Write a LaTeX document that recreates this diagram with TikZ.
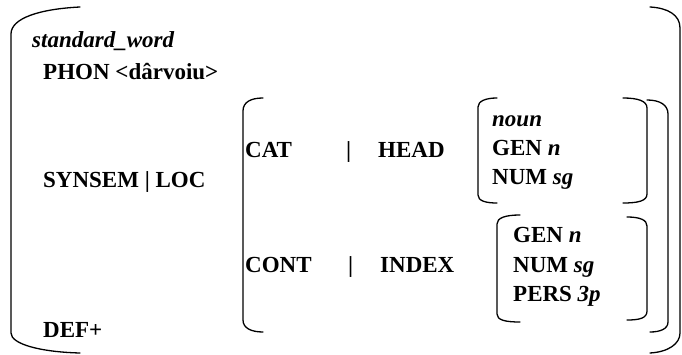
\documentclass[tikz,border=0pt]{standalone}
\usepackage{fontspec}
\setmainfont{Liberation Serif}
\usepackage{tikz}
\usetikzlibrary{positioning}
\tikzset{
  avm/.style={anchor=base west,inner sep=0pt,font=\fontsize{23}{28}\selectfont\bfseries},
  brak/.style={line width=1.3pt,line cap=round}
}

\begin{document}
\begin{tikzpicture}[x=1pt,y=-1pt]
  \useasboundingbox (0,0) rectangle (682,355);
  % outer matrix brackets
  \draw[brak] (80,7) .. controls (40,9) and (11,18) .. (11,34) -- (11,333)
              .. controls (11,344) and (40,352) .. (80,353);
  \draw[brak] (650,7) .. controls (668,8) and (680,15) .. (680,28) -- (680,333)
              .. controls (680,344) and (668,352) .. (650,353);
  % SYNSEM|LOC value
  \draw[brak] (263,98) .. controls (251,98) and (243,102) .. (243,111) -- (243,320)
              .. controls (243,328) and (251,332) .. (263,332);
  \draw[brak] (647,100) .. controls (660,100) and (668,105) .. (668,114) -- (668,322)
              .. controls (668,329) and (660,332) .. (650,332);
  % HEAD value
  \draw[brak] (497,98) .. controls (486,98) and (478,101) .. (478,107) -- (478,195)
              .. controls (478,201) and (486,203) .. (497,203);
  \draw[brak] (623,98) .. controls (638,98) and (647,101) .. (647,108) -- (647,194)
              .. controls (647,201) and (638,203) .. (623,203);
  % INDEX value
  \draw[brak] (520,215) .. controls (505,215) and (497,218) .. (497,224) -- (497,314)
              .. controls (497,320) and (505,322) .. (520,322);
  \draw[brak] (627,217) .. controls (640,217) and (647,220) .. (647,226) -- (647,311)
              .. controls (647,318) and (640,320) .. (627,320);
  % features
  \node[avm] (type) at (32,48) {\textit{standard\_word}};
  \node[avm] (phon) at (43,80) {PHON <dârvoiu>};
  \node[avm] (synsem) at (43,188) {SYNSEM | LOC};
  \node[avm] (cat) at (245,158) {CAT};
  \node[avm] (bar1) at (346,158) {|};
  \node[avm] (head) at (378,158) {HEAD};
  \node[avm] (noun) at (492,127) {\textit{noun}};
  \node[avm] (gen1) at (492,156) {GEN \textit{n}};
  \node[avm] (num1) at (492,185) {NUM \textit{sg}};
  \node[avm] (cont) at (245,272) {CONT};
  \node[avm] (bar2) at (348,272) {|};
  \node[avm] (index) at (380,272) {INDEX};
  \node[avm] (gen2) at (513,243) {GEN \textit{n}};
  \node[avm] (num2) at (513,272) {NUM \textit{sg}};
  \node[avm] (pers) at (513,301) {PERS \textit{3p}};
  \node[avm] (def) at (43,337) {DEF+};
\end{tikzpicture}
\end{document}
